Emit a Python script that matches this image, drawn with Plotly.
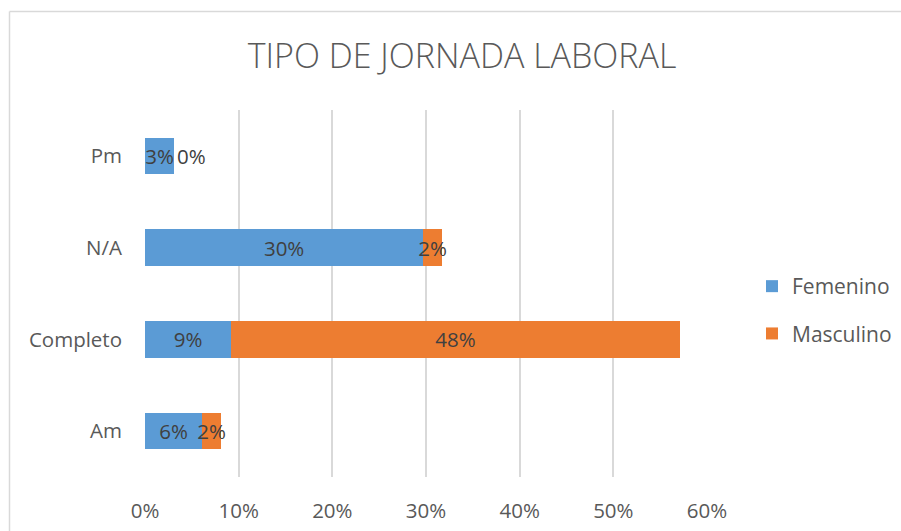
import plotly.graph_objects as go

categories = ["Am", "Completo", "N/A", "Pm"]
femenino = [0.061, 0.092, 0.297, 0.031]
masculino = [0.020, 0.479, 0.020, 0.0]
series_names = ["Femenino", "Masculino"]
tick_vals = [0, 0.1, 0.2, 0.3, 0.4, 0.5, 0.6]
tick_text = ["0%", "10%", "20%", "30%", "40%", "50%", "60%"]

FONT = "Open Sans"
W, H = 901, 531
L, R, T, B = 145, 194, 110, 54
pw = W - L - R
ph = H - T - B
FS = 20.5

def pct(v):
    return f"{round(v*100):.0f}%"

fig = go.Figure()
fig.add_trace(go.Bar(
    y=categories, x=femenino, name=series_names[0], orientation="h",
    legendgroup="f",
    marker=dict(color="#5B9BD5", line=dict(width=0)),
    text=[pct(v) for v in femenino], textposition="inside", textangle=0,
    insidetextanchor="middle", constraintext="none",
    textfont=dict(family=FONT, size=FS, color="#404040"),
    cliponaxis=False,
))
fig.add_trace(go.Bar(
    y=categories, x=masculino, name=series_names[1], orientation="h",
    legendgroup="m",
    marker=dict(color="#ED7D31", line=dict(width=0)),
    text=[pct(v) for v in masculino],
    textposition=["inside" if v > 0 else "outside" for v in masculino],
    textangle=0,
    insidetextanchor="middle", constraintext="none",
    textfont=dict(family=FONT, size=FS, color="#404040"),
    cliponaxis=False,
))

# chart-area border (top and left edges visible)
x0 = (9.5 - L) / pw
y0 = 1 + (T - 11.5) / ph
fig.add_shape(type="line", xref="paper", yref="paper", x0=x0, x1=(W + 5 - L) / pw,
              y0=y0, y1=y0, line=dict(color="#D9D9D9", width=1.5))
fig.add_shape(type="line", xref="paper", yref="paper", x0=x0, x1=x0,
              y0=y0, y1=-(B + 5) / ph, line=dict(color="#D9D9D9", width=1.5))

fig.update_layout(
    width=W, height=H,
    margin=dict(l=L, r=R, t=T, b=B, autoexpand=False),
    barmode="stack", bargap=0.6,
    plot_bgcolor="white", paper_bgcolor="white",
    font=dict(family=FONT, color="#595959"),
    title=dict(text="TIPO DE JORNADA LABORAL", x=462 / W, xref="container", xanchor="center",
               y=1 - 56 / H, yanchor="middle",
               font=dict(family=FONT, size=34, color="#595959", weight=300)),
    xaxis=dict(range=[0, 0.6], tickvals=tick_vals, ticktext=tick_text,
               showgrid=True, gridcolor="#D9D9D9", gridwidth=1.5,
               zeroline=False, showline=False, ticks="",
               ticklabelstandoff=19,
               tickfont=dict(family=FONT, size=FS, color="#595959"), fixedrange=True),
    yaxis=dict(showgrid=False, zeroline=False, showline=False, ticks="",
               ticklabelstandoff=22,
               tickfont=dict(family=FONT, size=FS, color="#595959")),
    legend=dict(x=(752 - L) / pw, y=0.5 - 16.5 / ph, xanchor="left", yanchor="middle",
                traceorder="grouped", tracegroupgap=17, itemwidth=30,
                font=dict(family=FONT, size=21, color="#595959"),
                bgcolor="rgba(0,0,0,0)"),
    showlegend=True,
)

fig.write_html("out.html", config={"displayModeBar": False},
               post_script="document.body.style.margin='0';document.body.style.overflow='hidden';")
